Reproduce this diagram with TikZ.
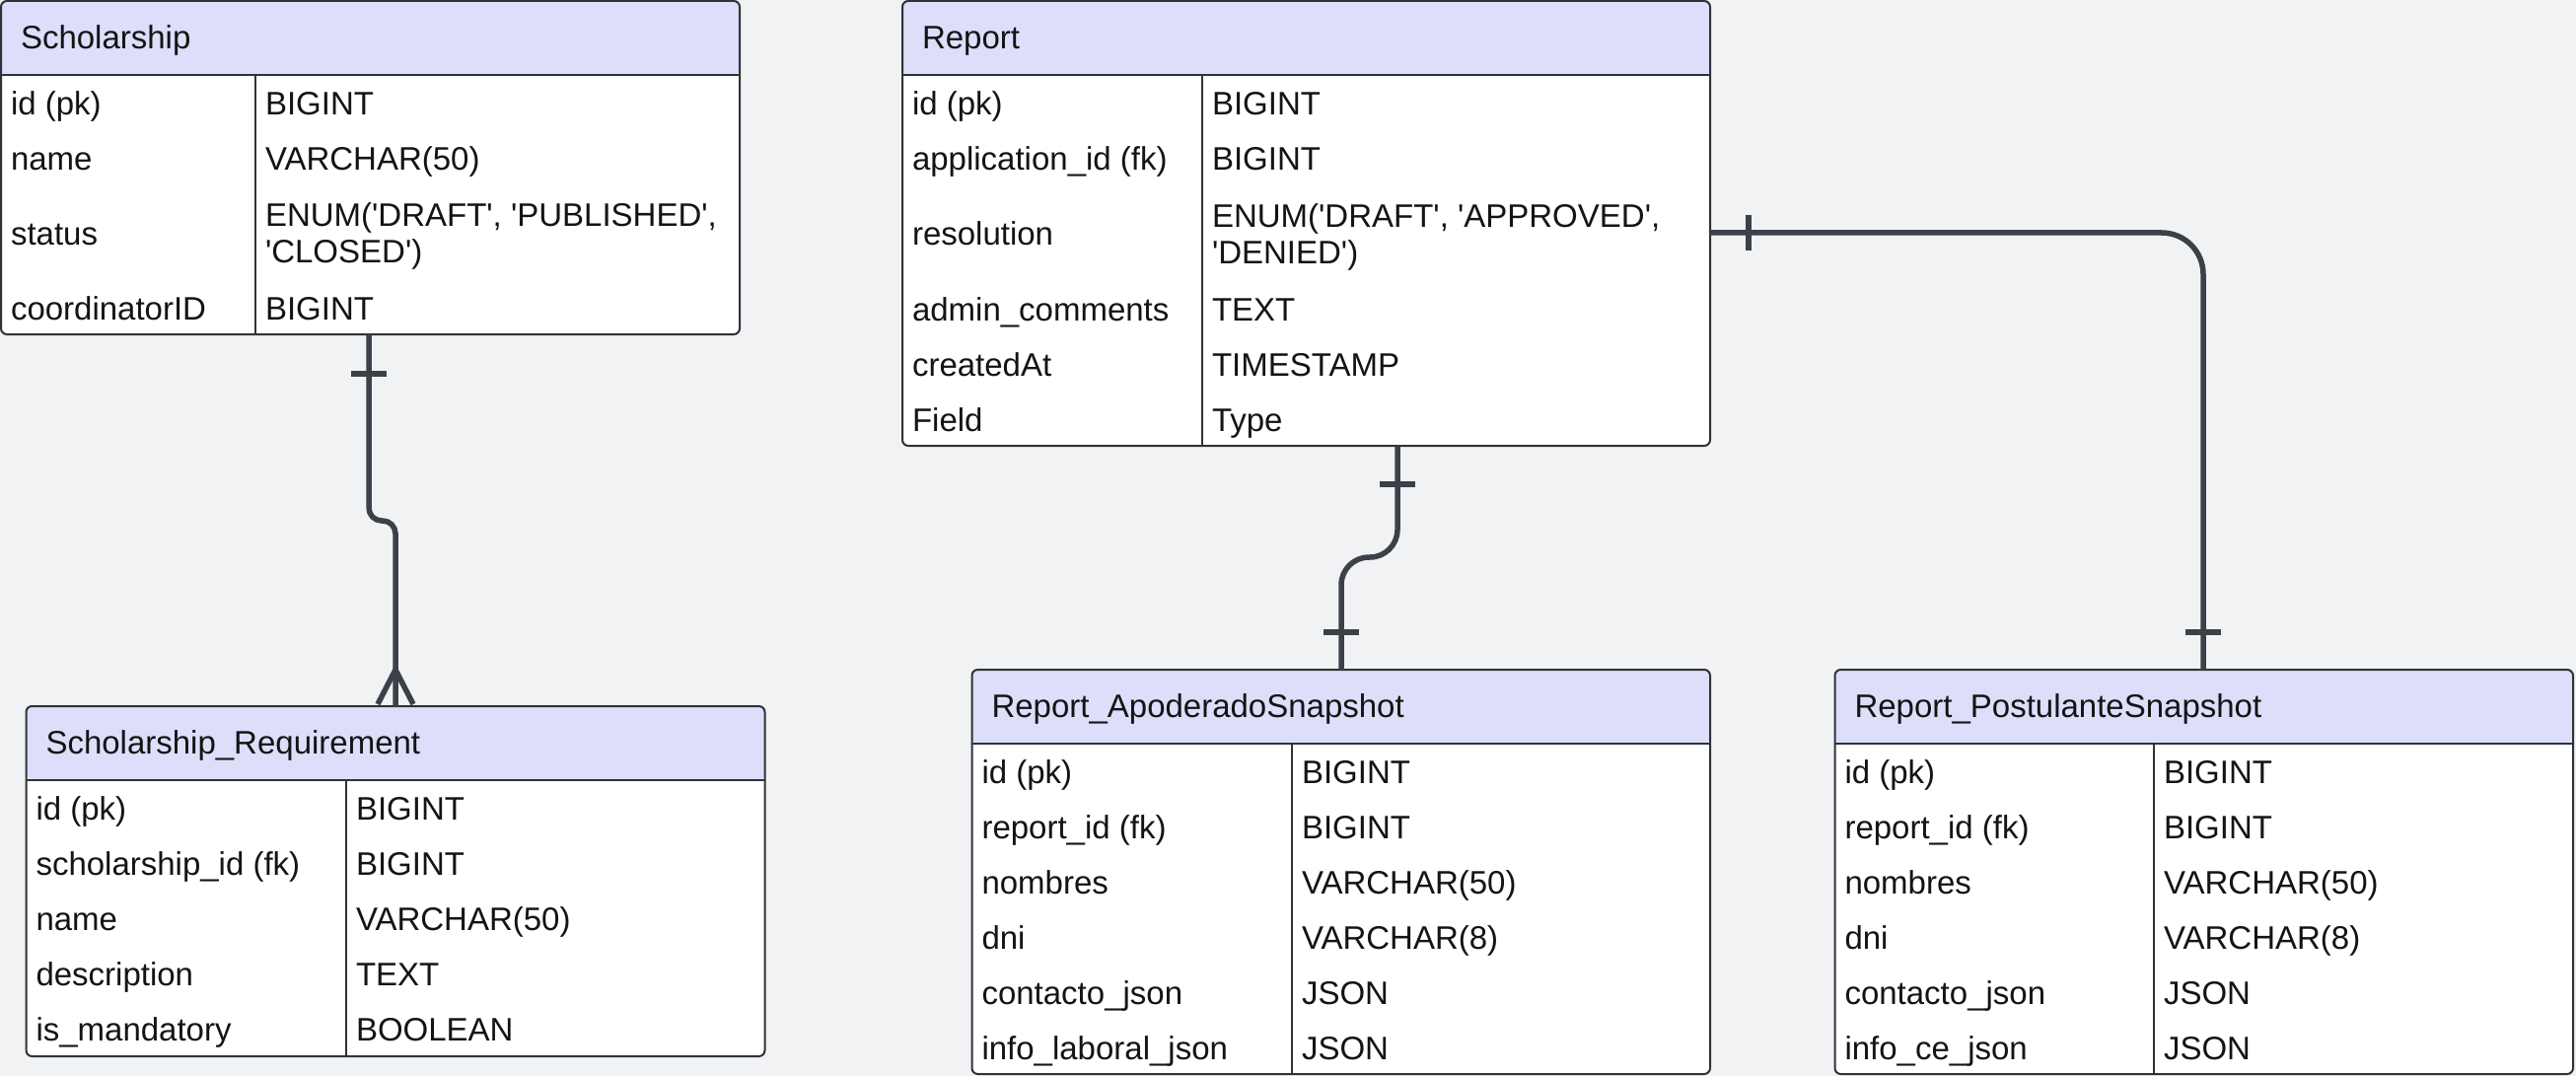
\documentclass[tikz,border=0pt]{standalone}
\usepackage{fontspec}
\setmainfont{Liberation Sans}[Ligatures=TeXOff]
\definecolor{bg}{RGB}{241,242,244}
\definecolor{hdr}{RGB}{221,222,250}
\definecolor{bord}{RGB}{47,51,56}
\definecolor{edgec}{RGB}{59,64,73}
\definecolor{ink}{RGB}{20,20,20}

\tikzset{
  entity/.style={draw=bord, line width=2pt, rounded corners=6pt, fill=white,
    inner sep=0pt, outer sep=0pt, anchor=north west,
    path picture={\fill[hdr] (path picture bounding box.north west)
      rectangle ([yshift=-75pt]path picture bounding box.north east);}},
  rule/.style={draw=bord, line width=2pt},
  hrule/.style={draw=bord, line width=2.5pt},
  lbl/.style={inner sep=0pt, outer sep=0pt, anchor=west, text height=23.6pt,
    text depth=0pt, text=ink, font=\fontsize{33}{40}\selectfont},
  link/.style={draw=edgec, line width=5.5pt},
}

% enum types that wrap onto two lines
\newcommand\schenumA{ENUM('DRAFT', 'PUBLISHED',}
\newcommand\schenumB{'CLOSED')}
\newcommand\repenumA{ENUM('DRAFT', 'APPROVED',}
\newcommand\repenumB{'DENIED')}

% #1 name, #2 x, #3 y, #4 width, #5 height, #6 column divider, #7 title,
% #8 rows as field/type/second type line/row height
\newcommand\ertab[8]{%
  \node[entity, minimum width=#4pt, minimum height=#5pt] (#1) at (#2,#3) {};
  \draw[hrule] ([yshift=-75pt]#1.north west) -- ([yshift=-75pt]#1.north east);
  \draw[rule] ([xshift=#6pt,yshift=-75pt]#1.north west) -- ([xshift=#6pt]#1.south west);
  \node[lbl] (#1-title) at ([xshift=20pt,yshift=-37pt]#1.north west) {#7};
  \gdef\rowtop{75}%
  \foreach \fld/\typ/\typb/\rowh [count=\i] in {#8} {%
    \pgfmathsetmacro\rowmid{\rowtop+\rowh/2+0.5}%
    \node[lbl] (#1-f\i) at ([xshift=10pt,yshift=-\rowmid pt]#1.north west) {\fld};
    \ifx\typb\empty
      \node[lbl] (#1-t\i) at ([xshift={#6pt+10pt},yshift=-\rowmid pt]#1.north west) {\typ};
    \else
      \node[lbl] (#1-t\i) at ([xshift={#6pt+10pt},yshift={-\rowmid pt+18.5pt}]#1.north west) {\typ};
      \node[lbl] (#1-u\i) at ([xshift={#6pt+10pt},yshift={-\rowmid pt-18.5pt}]#1.north west) {\typb};
    \fi
    \pgfmathsetmacro\nexttop{\rowtop+\rowh}%
    \xdef\rowtop{\nexttop}%
  }%
}

\begin{document}
\begin{tikzpicture}[x=1pt,y=-1pt]
  \useasboundingbox (0,0) rectangle (2612,1091);
  \fill[bg] (0,0) rectangle (2612,1091);

  \ertab{sch}{1}{1}{749}{338}{258}{Scholarship}{%
    id (pk)/BIGINT//56,
    name/VARCHAR(50)//56,
    status/\schenumA/\schenumB/96,
    coordinatorID/BIGINT//56}

  \ertab{rep}{915}{1}{819}{451}{304}{Report}{%
    id (pk)/BIGINT//56,
    application\_id (fk)/BIGINT//56,
    resolution/\repenumA/\repenumB/97,
    admin\_comments/TEXT//56,
    createdAt/TIMESTAMP//56,
    Field/Type//56}

  \ertab{req}{26.5}{716}{749}{355}{324.5}{Scholarship\_Requirement}{%
    id (pk)/BIGINT//56,
    scholarship\_id (fk)/BIGINT//56,
    name/VARCHAR(50)//56,
    description/TEXT//56,
    is\_mandatory/BOOLEAN//56}

  \ertab{apo}{985.5}{679}{748.5}{410}{324.5}{Report\_ApoderadoSnapshot}{%
    id (pk)/BIGINT//56,
    report\_id (fk)/BIGINT//56,
    nombres/VARCHAR(50)//56,
    dni/VARCHAR(8)//56,
    contacto\_json/JSON//56,
    info\_laboral\_json/JSON//56}

  \ertab{pos}{1860.5}{679}{748.5}{410}{323.5}{Report\_PostulanteSnapshot}{%
    id (pk)/BIGINT//56,
    report\_id (fk)/BIGINT//56,
    nombres/VARCHAR(50)//56,
    dni/VARCHAR(8)//56,
    contacto\_json/JSON//56,
    info\_ce\_json/JSON//56}

  % Scholarship ||--o{ Scholarship_Requirement
  \draw[link, rounded corners=13pt] (374,0 |- sch.south) -- (374,528) -- (401,528) -- (401,0 |- req.north);
  \draw[link] (356,379) -- (392,379);
  \draw[link] (383,714) -- (401,679) -- (419,714);

  % Report ||--|| Report_ApoderadoSnapshot
  \draw[link, rounded corners=28pt] (1417,0 |- rep.south) -- (1417,565) -- (1360,565) -- (1360,0 |- apo.north);
  \draw[link] (1399,491) -- (1435,491);
  \draw[link] (1342,641) -- (1378,641);

  % Report ||--|| Report_PostulanteSnapshot
  \draw[link, rounded corners=42pt] (rep.east |- 0,236) -- (2234,236) -- (2234,0 |- pos.north);
  \draw[link] (1773,218) -- (1773,254);
  \draw[link] (2216,641) -- (2252,641);
\end{tikzpicture}
\end{document}
